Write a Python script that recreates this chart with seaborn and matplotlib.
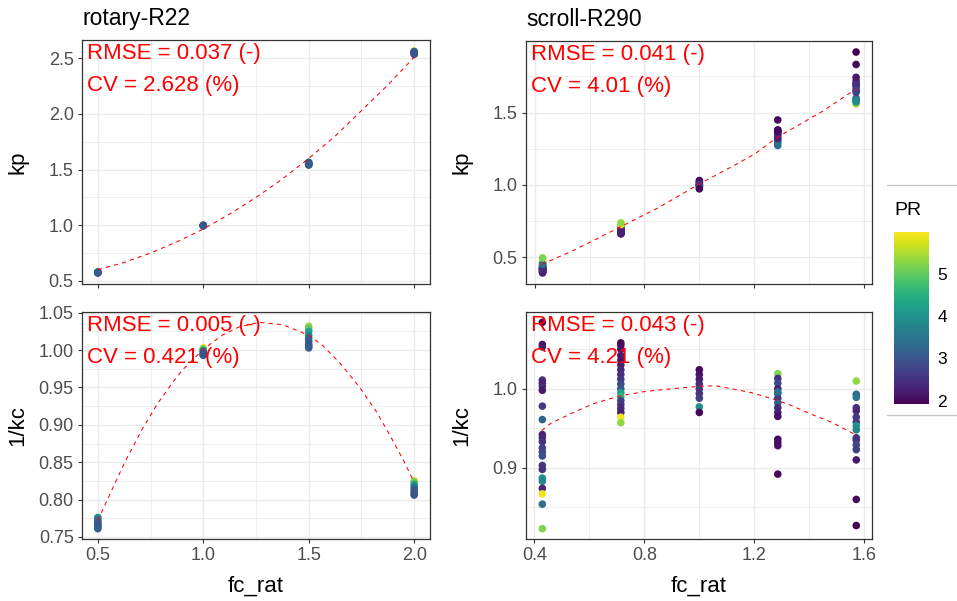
import numpy as np
import pandas as pd
import matplotlib
matplotlib.use("Agg")
import matplotlib.pyplot as plt
import seaborn as sns
from matplotlib.colors import Normalize
from matplotlib.cm import ScalarMappable
from matplotlib.lines import Line2D
from matplotlib.ticker import MultipleLocator, FormatStrFormatter

# ---------------- data ----------------
# rotary-R22
rot_fc = [0.5, 0.5, 0.5, 0.5, 0.5, 0.5, 0.5, 0.5,
          1.0, 1.0, 1.0, 1.0, 1.0, 1.0, 1.0, 1.0,
          1.5, 1.5, 1.5, 1.5, 1.5, 1.5, 1.5, 1.5, 1.5,
          2.0, 2.0, 2.0, 2.0, 2.0, 2.0, 2.0, 2.0]
rot_pr = [4.0, 3.6, 3.3, 3.1, 3.1, 3.0, 3.0, 3.1,
          5.9, 5.3, 4.5, 3.6, 3.2, 3.1, 3.0, 3.0,
          5.3, 5.0, 4.3, 3.8, 3.3, 3.1, 3.0, 3.0, 3.1,
          5.5, 5.0, 4.2, 3.6, 3.2, 3.1, 3.0, 3.0]
rot_kp = [0.578, 0.576, 0.574, 0.572, 0.578, 0.575, 0.571, 0.577,
          0.998, 1.000, 0.996, 0.994, 0.998, 1.000, 0.997, 0.995,
          1.565, 1.560, 1.555, 1.550, 1.545, 1.540, 1.555, 1.565, 1.548,
          2.565, 2.560, 2.555, 2.550, 2.545, 2.540, 2.560, 2.535]
rot_ikc = [0.776, 0.774, 0.771, 0.769, 0.767, 0.765, 0.763, 0.761,
           1.003, 1.002, 1.000, 0.999, 0.997, 0.995, 0.994, 0.993,
           1.032, 1.029, 1.025, 1.020, 1.016, 1.012, 1.008, 1.005, 1.003,
           0.825, 0.823, 0.820, 0.817, 0.814, 0.811, 0.808, 0.806]

rot_fit_x = [0.5, 0.625, 0.75, 0.875, 1.0, 1.125, 1.25, 1.375, 1.5, 1.625, 1.75, 1.875, 2.0]
rot_kp_fit = [0.60, 0.665, 0.75, 0.85, 0.965, 1.10, 1.25, 1.415, 1.60, 1.80, 2.03, 2.26, 2.51]
rot_ikc_fit_x = [0.5, 0.575, 0.63, 0.71, 0.78, 0.853, 0.90, 1.0, 1.09, 1.17, 1.266, 1.377,
                 1.5, 1.568, 1.647, 1.742, 1.82, 1.885, 1.95, 2.0]
rot_ikc_fit = [0.772, 0.818, 0.851, 0.894, 0.927, 0.956, 0.973, 1.001, 1.020, 1.031, 1.0372,
               1.034, 1.020, 1.0056, 0.983, 0.950, 0.918, 0.886, 0.852, 0.823]

# scroll-R290
scr_fc = [
    0.4286, 0.4286, 0.4286, 0.4286, 0.4286, 0.4286, 0.4286, 0.4286, 0.4286, 0.4286, 0.4286, 0.4286,
    0.4286, 0.4286, 0.4286, 0.4286, 0.4286, 0.4286, 0.4286, 0.4286, 0.4286, 0.4286, 0.4286,
    0.7143, 0.7143, 0.7143, 0.7143, 0.7143, 0.7143, 0.7143, 0.7143, 0.7143, 0.7143,
    0.7143, 0.7143, 0.7143, 0.7143, 0.7143, 0.7143, 0.7143, 0.7143, 0.7143,
    1.0, 1.0, 1.0, 1.0, 1.0, 1.0, 1.0, 1.0, 1.0,
    1.2857, 1.2857, 1.2857, 1.2857, 1.2857, 1.2857, 1.2857, 1.2857, 1.2857, 1.2857,
    1.2857, 1.2857, 1.2857, 1.2857, 1.2857,
    1.5714, 1.5714, 1.5714, 1.5714, 1.5714, 1.5714, 1.5714, 1.5714, 1.5714, 1.5714,
    1.5714, 1.5714, 1.5714, 1.5714, 1.5714, 1.5714]
scr_pr = [2.0, 2.1, 2.2, 2.5, 2.3, 2.4, 2.2, 2.6, 3.2, 2.3, 2.4, 2.5,
          2.7, 2.8, 2.9, 2.6, 2.5, 4.0, 3.8, 2.4, 5.9, 3.4, 5.2,
          2.0, 2.05, 2.1, 2.2, 2.15, 2.3, 2.4, 2.5, 2.6, 2.8,
          3.0, 4.2, 4.6, 2.7, 2.5, 2.4, 2.3, 5.9, 5.3,
          3.9, 2.0, 2.1, 2.2, 2.4, 2.6, 2.5, 2.7, 2.0,
          5.2, 2.5, 2.8, 2.3, 3.0, 2.6, 3.2, 2.4, 2.3, 2.1,
          2.0, 2.05, 2.1, 2.0, 3.4,
          5.3, 3.3, 3.5, 2.5, 2.4, 2.6, 2.7, 4.0, 3.8, 2.6,
          2.5, 2.8, 2.7, 2.2, 2.0, 1.95]
scr_kp = [0.395, 0.400, 0.405, 0.420, 0.410, 0.415, 0.390, 0.425, 0.445, 0.400, 0.410, 0.420,
          0.430, 0.435, 0.440, 0.425, 0.420, 0.465, 0.460, 0.415, 0.480, 0.450, 0.494,
          0.665, 0.670, 0.660, 0.675, 0.668, 0.680, 0.685, 0.690, 0.695, 0.700,
          0.705, 0.715, 0.720, 0.690, 0.685, 0.680, 0.675, 0.725, 0.737,
          0.990, 1.030, 1.020, 1.010, 1.005, 1.000, 0.995, 0.985, 0.972,
          1.300, 1.360, 1.330, 1.350, 1.310, 1.340, 1.290, 1.370, 1.320, 1.378,
          1.449, 1.375, 1.365, 1.380, 1.272,
          1.561, 1.600, 1.590, 1.700, 1.720, 1.680, 1.660, 1.580, 1.575, 1.690,
          1.700, 1.650, 1.640, 1.744, 1.833, 1.919]
scr_ikc = [1.084, 1.056, 1.053, 1.011, 1.007, 1.003, 0.998, 0.978, 0.961, 0.942, 0.938, 0.933,
           0.925, 0.920, 0.915, 0.903, 0.898, 0.887, 0.883, 0.874, 0.867, 0.854, 0.823,
           1.058, 1.055, 1.050, 1.042, 1.036, 1.030, 1.024, 1.018, 1.012, 1.006,
           1.000, 0.995, 0.990, 0.985, 0.980, 0.975, 0.970, 0.964, 0.957,
           0.977, 1.024, 1.018, 1.012, 1.006, 1.000, 0.994, 0.988, 0.970,
           1.019, 1.013, 1.007, 1.000, 0.994, 0.988, 0.982, 0.976, 0.970, 0.965,
           0.936, 0.932, 0.928, 0.892, 0.996,
           1.0097, 0.993, 0.989, 0.976, 0.972, 0.964, 0.958, 0.953, 0.948, 0.938,
           0.935, 0.929, 0.923, 0.910, 0.860, 0.827]

scr_kp_fit_x = [0.4254, 0.549, 0.7186, 0.852, 0.999, 1.142, 1.203, 1.285, 1.45, 1.572]
scr_kp_fit = [0.449, 0.553, 0.715, 0.843, 1.005, 1.15, 1.215, 1.33, 1.51, 1.665]
scr_ikc_fit_x = [0.4264, 0.458, 0.542, 0.614, 0.71, 0.806, 0.902, 0.998, 1.058, 1.118,
                 1.19, 1.278, 1.334, 1.406, 1.479, 1.563]
scr_ikc_fit = [0.947, 0.956, 0.970, 0.981, 0.991, 0.9967, 1.0, 1.003, 1.0038, 1.0,
               0.995, 0.986, 0.979, 0.968, 0.958, 0.943]

titles = ["rotary-R22", "scroll-R290"]
rmse_kp = ["0.037", "0.041"]
cv_kp = ["2.628", "4.01"]
rmse_ikc = ["0.005", "0.043"]
cv_ikc = ["0.421", "4.21"]
pr_range = (1.92, 5.98)
cbar_ticks = [2, 3, 4, 5]

rot = pd.DataFrame({"fc_rat": rot_fc, "PR": rot_pr, "kp": rot_kp, "ikc": rot_ikc})
scr = pd.DataFrame({"fc_rat": scr_fc, "PR": scr_pr, "kp": scr_kp, "ikc": scr_ikc})

# ---------------- style ----------------
sns.set_theme(style="white")
plt.rcParams["font.family"] = ["Liberation Sans", "DejaVu Sans"]

W, H = 957, 601
fig = plt.figure(figsize=(W / 100, H / 100), dpi=100)
norm = Normalize(*pr_range)


def fax(x0, y0, x1, y1):
    return fig.add_axes([x0 / W, 1 - y1 / H, (x1 - x0) / W, (y1 - y0) / H])


def expand(vals):
    lo, hi = min(vals), max(vals)
    d = (hi - lo) * 0.05
    return lo - d, hi + d


def panel(ax, df, col, fx, fy, xmaj, ymaj, yfmt, rmse, cv, title=None, xlabel=False, ylabel=""):
    sns.scatterplot(data=df, x="fc_rat", y=col, hue="PR", palette="viridis", hue_norm=norm,
                    s=30, linewidth=0, legend=False, ax=ax, zorder=3)
    sns.lineplot(x=fx, y=fy, ax=ax, color="red", linewidth=0.75, linestyle=(0, (4, 4)),
                 zorder=4, sort=True)
    ax.set_xlim(*expand(list(df["fc_rat"]) + list(fx)))
    ax.set_ylim(*expand(list(df[col]) + list(fy)))
    ax.xaxis.set_major_locator(MultipleLocator(xmaj))
    ax.xaxis.set_minor_locator(MultipleLocator(xmaj / 2))
    ax.yaxis.set_major_locator(MultipleLocator(ymaj))
    ax.yaxis.set_minor_locator(MultipleLocator(ymaj / 2))
    ax.xaxis.set_major_formatter(FormatStrFormatter("%.1f"))
    ax.yaxis.set_major_formatter(FormatStrFormatter(yfmt))
    ax.grid(which="major", color="#EBEBEB", linewidth=1.0, zorder=0)
    ax.grid(which="minor", color="#EBEBEB", linewidth=0.6, zorder=0)
    ax.set_axisbelow(True)
    for s in ax.spines.values():
        s.set_color("#333333")
        s.set_linewidth(0.9)
    ax.tick_params(which="major", direction="out", length=3, width=0.8, color="#333333",
                   labelsize=13, labelcolor="#4D4D4D", pad=3, bottom=True, left=True)
    ax.tick_params(which="minor", length=0)
    ax.set_ylabel(ylabel, fontsize=16, color="black")
    ax.yaxis.set_label_coords(-0.155, 0.5)
    if xlabel:
        ax.set_xlabel("fc_rat", fontsize=16, color="black")
        ax.xaxis.set_label_coords(0.5, -0.16)
    else:
        ax.set_xlabel("")
        ax.tick_params(labelbottom=False)
    if title:
        ax.set_title(title, loc="left", fontsize=16.5, pad=10.8, color="black")
    ax.annotate(f"RMSE = {rmse} (-)", xy=(0, 1), xycoords="axes fraction", xytext=(5, -19),
                textcoords="offset pixels", color="red", fontsize=16, ha="left", va="baseline",
                zorder=5)
    ax.annotate(f"CV = {cv} (%)", xy=(0, 1), xycoords="axes fraction", xytext=(5, -51),
                textcoords="offset pixels", color="red", fontsize=16, ha="left", va="baseline",
                zorder=5)


ax_tl = fax(82, 40, 430, 284)
ax_tr = fax(526, 41, 872, 284)
ax_bl = fax(82, 312, 430, 539)
ax_br = fax(526, 312, 872, 539)

panel(ax_tl, rot, "kp", rot_fit_x, rot_kp_fit, 0.5, 0.5, "%.1f", rmse_kp[0], cv_kp[0],
      title=titles[0], ylabel="kp")
panel(ax_tr, scr, "kp", scr_kp_fit_x, scr_kp_fit, 0.4, 0.5, "%.1f", rmse_kp[1], cv_kp[1],
      title=titles[1], ylabel="kp")
panel(ax_bl, rot, "ikc", rot_ikc_fit_x, rot_ikc_fit, 0.5, 0.05, "%.2f", rmse_ikc[0], cv_ikc[0],
      xlabel=True, ylabel="1/kc")
panel(ax_br, scr, "ikc", scr_ikc_fit_x, scr_ikc_fit, 0.4, 0.1, "%.1f", rmse_ikc[1], cv_ikc[1],
      xlabel=True, ylabel="1/kc")

# ---------------- colour bar legend ----------------
cax = fax(894, 232, 929, 404)
cb = fig.colorbar(ScalarMappable(norm=norm, cmap="viridis"), cax=cax, ticks=cbar_ticks)
cb.outline.set_visible(False)
cax.tick_params(left=True, right=True, direction="in", length=5.5, width=0.8, color="white",
                labelleft=False, labelright=True, labelsize=12.5, labelcolor="black", pad=6)
cax.set_title("PR", loc="left", fontsize=14, pad=12, color="black")
for yy in (185, 415):
    fig.add_artist(Line2D([887 / W, 1.0], [1 - yy / H, 1 - yy / H], color="#C8C8C8",
                          linewidth=1.0))

fig.savefig("out.png", dpi=100)
